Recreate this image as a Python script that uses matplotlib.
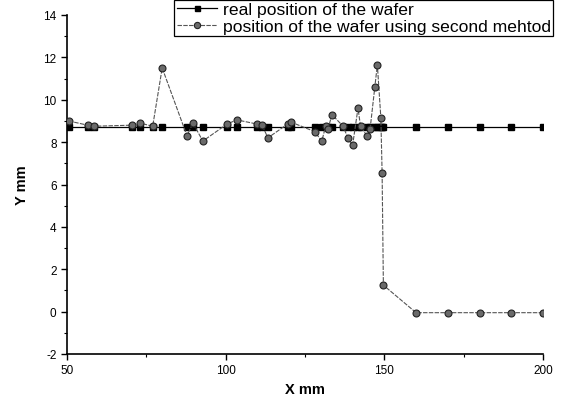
import matplotlib
matplotlib.use("Agg")
import matplotlib.pyplot as plt
from matplotlib.ticker import MultipleLocator

plt.rcParams['font.family'] = ['Liberation Sans', 'DejaVu Sans']
plt.rcParams['axes.unicode_minus'] = False

x_mm = [50.5, 56.5, 58.5, 70.5, 73, 77, 80, 87.8, 89.7, 92.8, 100.4, 103.5, 110, 111.5,
        113.3, 119.5, 120.5, 128, 130.3, 131.5, 132.2, 133.5, 137, 138.5, 140, 141.7,
        142.5, 144.5, 145.5, 147, 147.8, 148.9, 149.3, 149.7, 160, 170, 180, 190, 200]
real_y = [8.7] * len(x_mm)
second_y = [9.0, 8.8, 8.75, 8.8, 8.9, 8.75, 11.5, 8.3, 8.9, 8.05, 8.85, 9.05, 8.85, 8.8,
            8.2, 8.85, 8.95, 8.5, 8.05, 8.75, 8.6, 9.3, 8.75, 8.2, 7.85, 9.6,
            8.75, 8.3, 8.6, 10.6, 11.65, 9.15, 6.55, 1.25, -0.05, -0.05, -0.05, -0.05, -0.05]

label_real = "real position of the wafer"
label_second = "position of the wafer using second mehtod"

fig = plt.figure(figsize=(5.71, 4.10), dpi=100)
ax = fig.add_axes([67/571, 55/410, (543-67)/571, (355-16)/410])

ax.plot(x_mm, real_y, color='black', lw=0.9, marker='s', markersize=4,
        markerfacecolor='black', markeredgecolor='black', label=label_real, zorder=2)
ax.plot(x_mm, second_y, color='#555555', lw=0.8, ls=(0, (4, 1.2)), marker='o', markersize=5,
        markerfacecolor='#6a6a6a', markeredgecolor='#222222', markeredgewidth=0.8,
        label=label_second, zorder=3)

ax.set_xlim(50, 200)
ax.set_ylim(-2, 14)
ax.xaxis.set_major_locator(MultipleLocator(50))
ax.xaxis.set_minor_locator(MultipleLocator(25))
ax.yaxis.set_major_locator(MultipleLocator(2))
ax.yaxis.set_minor_locator(MultipleLocator(1))
ax.spines['top'].set_visible(False)
ax.spines['right'].set_visible(False)
for s in ('left', 'bottom'):
    ax.spines[s].set_linewidth(1.2)
ax.tick_params(which='major', direction='out', length=4, width=1, labelsize=8.5)
ax.tick_params(which='minor', direction='out', length=2, width=0.8)

ax.set_xlabel("X mm", fontsize=10.5, fontweight='bold', labelpad=4)
ax.set_ylabel("Y mm", fontsize=10.5, fontweight='bold', labelpad=10)

leg = fig.legend(loc='upper right', bbox_to_anchor=(553/571, 1 - 1/410),
                 bbox_transform=fig.transFigure, fontsize=12.6, frameon=True,
                 fancybox=False, edgecolor='black', framealpha=1,
                 handlelength=2.3, borderpad=0.12, labelspacing=0.08,
                 handletextpad=0.35, borderaxespad=0, markerscale=0.9)
leg.get_frame().set_linewidth(0.9)

fig.savefig("out.png", dpi=100)
